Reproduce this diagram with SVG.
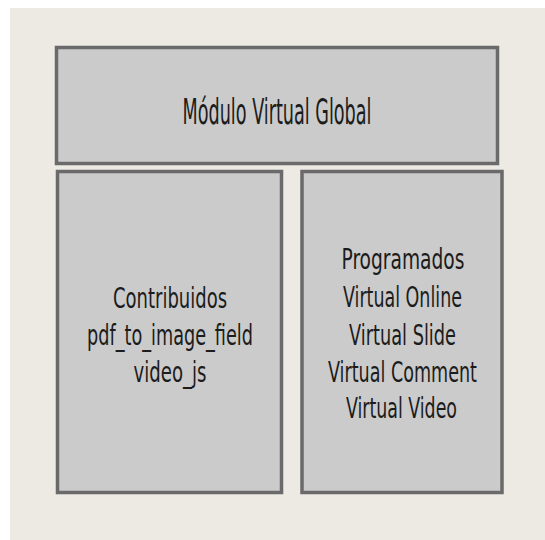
<svg xmlns="http://www.w3.org/2000/svg" width="545" height="540" viewBox="0 0 545 540">
<style>
.box{fill:#cbcbcb;stroke:#6a6a6a;stroke-width:3.5}
.t{font-family:"Liberation Sans Narrow","DejaVu Sans Condensed","Liberation Sans",sans-serif;fill:#1c1c1c;text-anchor:middle;font-size:29px}
.big{font-size:35px}
</style>
<rect x="0" y="0" width="545" height="540" fill="#ffffff"/>
<rect x="10" y="8" width="535" height="532" fill="#edeae4"/>
<g id="modulo-virtual-global">
<rect class="box" x="56.5" y="47.5" width="441" height="116"/>
<text class="t big" x="277" y="124" textLength="189" lengthAdjust="spacingAndGlyphs">Módulo Virtual Global</text>
</g>
<g id="contribuidos">
<rect class="box" x="57.5" y="171.5" width="224" height="321"/>
<text class="t" x="170" y="308" textLength="114" lengthAdjust="spacingAndGlyphs">Contribuidos</text>
<text class="t" x="170" y="345" textLength="166" lengthAdjust="spacingAndGlyphs">pdf_to_image_field</text>
<text class="t" x="170" y="382" textLength="73" lengthAdjust="spacingAndGlyphs">video_js</text>
</g>
<g id="programados">
<rect class="box" x="302" y="171.5" width="200" height="321"/>
<text class="t" x="403" y="269" textLength="123" lengthAdjust="spacingAndGlyphs">Programados</text>
<text class="t" x="402.5" y="307" textLength="119" lengthAdjust="spacingAndGlyphs">Virtual Online</text>
<text class="t" x="402.5" y="345" textLength="107" lengthAdjust="spacingAndGlyphs">Virtual Slide</text>
<text class="t" x="402.5" y="382" textLength="149" lengthAdjust="spacingAndGlyphs">Virtual Comment</text>
<text class="t" x="401.5" y="418" textLength="111" lengthAdjust="spacingAndGlyphs">Virtual Video</text>
</g>
<g id="connectors"></g>
</svg>
